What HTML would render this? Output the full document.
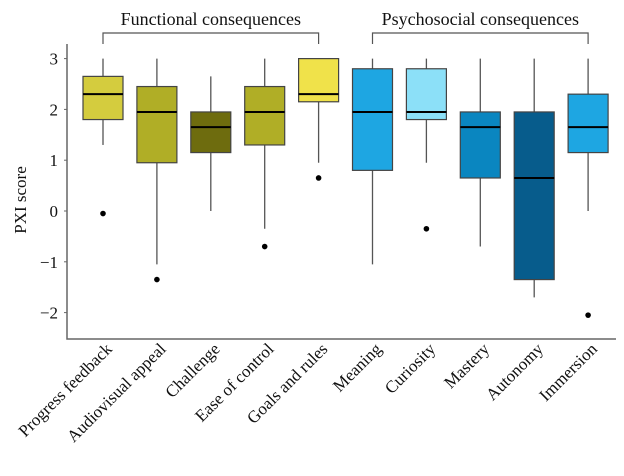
<!DOCTYPE html>
<html><head><meta charset="utf-8"><style>
body{margin:0;background:#fff}
svg text{font-family:"Liberation Serif",serif;fill:#111}
</style></head><body>
<svg width="624" height="471" id="chart">
<g id="g"></g>
</svg>
<script>
const categories=["Progress feedback","Audiovisual appeal","Challenge","Ease of control","Goals and rules","Meaning","Curiosity","Mastery","Autonomy","Immersion"];
const whiskerLow=[1.3,-1.05,0,-0.35,0.95,-1.05,0.95,-0.7,-1.7,0];
const q1=[1.8,0.95,1.15,1.3,2.15,0.8,1.8,0.65,-1.35,1.15];
const medians=[2.3,1.95,1.65,1.95,2.3,1.95,1.95,1.65,0.65,1.65];
const q3=[2.65,2.45,1.95,2.45,3,2.8,2.8,1.95,1.95,2.3];
const whiskerHigh=[3,3,2.65,3,3,3,3,3,3,3];
const outliers=[[-0.05],[-1.35],[],[-0.7],[0.65],[],[-0.35],[],[],[-2.05]];
const colors=["#d4cc3e","#b0ae26","#6e6c0e","#b0ae26","#f0e24a","#1ea6e2","#8ce0f8","#0a86c0","#075c8c","#1ea6e2"];
const yTicks=[3,2,1,0,-1,-2];
const yTickLabels=["3","2","1","0","\u22121","\u22122"];
const y=v=>211-v*50.8;
const x=i=>103+i*53.9;
const g=document.getElementById('g');
const NS="http://www.w3.org/2000/svg";
function mk(t,a,p){const e=document.createElementNS(NS,t);for(const k in a)e.setAttribute(k,a[k]);(p||g).appendChild(e);return e;}
let e;
e=mk('path',{d:'M67,44 V339 H616',fill:'none',stroke:'#666','stroke-width':1.5});


yTicks.forEach((t,i)=>{
 e=mk('line',{x1:64,x2:67,y1:y(t),y2:y(t),stroke:'#666'});
 
 
 e=mk('text',{x:58,y:y(t)+6,'text-anchor':'end','font-size':17});
 e.textContent=yTickLabels[i];
 
 
});
e=mk('text',{x:0,y:0,transform:'translate(26,200) rotate(-90)','text-anchor':'middle','font-size':17});
e.textContent='PXI score';


categories.forEach((c,i)=>{
 const cx=x(i),w=40;
 e=mk('line',{x1:cx,x2:cx,y1:y(whiskerHigh[i]),y2:y(whiskerLow[i]),stroke:'#555','stroke-width':1.3});
 
 
 e=mk('rect',{x:cx-w/2,y:y(q3[i]),width:w,height:y(q1[i])-y(q3[i]),fill:colors[i],stroke:'#444','stroke-width':1.2});
 
 
 e=mk('line',{x1:cx-w/2,x2:cx+w/2,y1:y(medians[i]),y2:y(medians[i]),stroke:'#000','stroke-width':2});
 
 
 outliers[i].forEach(o=>{
  e=mk('circle',{cx:cx,cy:y(o),r:2.8,fill:'#000'});
  
  
 });
 e=mk('text',{x:0,y:0,transform:`translate(${cx+10},350) rotate(-45)`,'text-anchor':'end','font-size':17});
 e.textContent=c;
 
 
});
function bracket(a,b,label,name){
 const x1=x(a),x2=x(b);
 e=mk('path',{d:`M${x1},44 V33 H${x2} V44`,fill:'none',stroke:'#555','stroke-width':1.2});
 
 
 e=mk('text',{x:(x1+x2)/2,y:25,'text-anchor':'middle','font-size':18});
 e.textContent=label;
 
 
}
bracket(0,4,'Functional consequences','functional');
bracket(5,9,'Psychosocial consequences','psychosocial');
</script>
</body></html>
